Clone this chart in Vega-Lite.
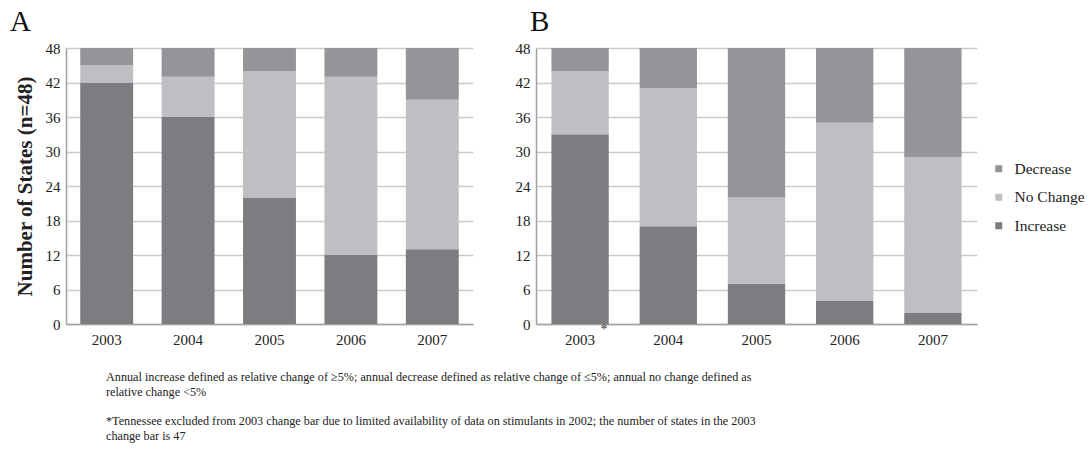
{
  "$schema": "https://vega.github.io/schema/vega-lite/v6.json",
  "background": "white",
  "padding": {"left": 10, "top": 8, "right": 0, "bottom": 0},
  "config": {
    "font": "Liberation Serif, Times New Roman, serif",
    "view": {"stroke": null},
    "axis": {
      "labelFont": "Liberation Serif, Times New Roman, serif",
      "labelFontSize": 15,
      "labelColor": "#222222",
      "gridColor": "#c9cacc",
      "gridWidth": 1.5,
      "domainColor": "#a0a0a0",
      "domainWidth": 1.5,
      "ticks": false
    },
    "concat": {"spacing": 42}
  },
  "datasets": {
    "panelA": [
      {"year": "2003", "change": "Increase", "direction": 1, "states": 42},
      {"year": "2003", "change": "No Change", "direction": 0, "states": 3},
      {"year": "2003", "change": "Decrease", "direction": -1, "states": 3},
      {"year": "2004", "change": "Increase", "direction": 1, "states": 36},
      {"year": "2004", "change": "No Change", "direction": 0, "states": 7},
      {"year": "2004", "change": "Decrease", "direction": -1, "states": 5},
      {"year": "2005", "change": "Increase", "direction": 1, "states": 22},
      {"year": "2005", "change": "No Change", "direction": 0, "states": 22},
      {"year": "2005", "change": "Decrease", "direction": -1, "states": 4},
      {"year": "2006", "change": "Increase", "direction": 1, "states": 12},
      {"year": "2006", "change": "No Change", "direction": 0, "states": 31},
      {"year": "2006", "change": "Decrease", "direction": -1, "states": 5},
      {"year": "2007", "change": "Increase", "direction": 1, "states": 13},
      {"year": "2007", "change": "No Change", "direction": 0, "states": 26},
      {"year": "2007", "change": "Decrease", "direction": -1, "states": 9}
    ],
    "panelB": [
      {"year": "2003", "change": "Increase", "direction": 1, "states": 33},
      {"year": "2003", "change": "No Change", "direction": 0, "states": 11},
      {"year": "2003", "change": "Decrease", "direction": -1, "states": 4},
      {"year": "2004", "change": "Increase", "direction": 1, "states": 17},
      {"year": "2004", "change": "No Change", "direction": 0, "states": 24},
      {"year": "2004", "change": "Decrease", "direction": -1, "states": 7},
      {"year": "2005", "change": "Increase", "direction": 1, "states": 7},
      {"year": "2005", "change": "No Change", "direction": 0, "states": 15},
      {"year": "2005", "change": "Decrease", "direction": -1, "states": 26},
      {"year": "2006", "change": "Increase", "direction": 1, "states": 4},
      {"year": "2006", "change": "No Change", "direction": 0, "states": 31},
      {"year": "2006", "change": "Decrease", "direction": -1, "states": 13},
      {"year": "2007", "change": "Increase", "direction": 1, "states": 2},
      {"year": "2007", "change": "No Change", "direction": 0, "states": 27},
      {"year": "2007", "change": "Decrease", "direction": -1, "states": 19}
    ],
    "notes": [
      {"year": "2003", "mark": "*"}
    ]
  },
  "title": {
    "text": [
      "Annual increase defined as relative change of ≥5%; annual decrease defined as relative change of ≤5%; annual no change defined as",
      "relative change <5%"
    ],
    "subtitle": [
      "*Tennessee excluded from 2003 change bar due to limited availability of data on stimulants in 2002; the number of states in the 2003",
      "change bar is 47"
    ],
    "orient": "bottom",
    "anchor": "start",
    "frame": "bounds",
    "font": "Liberation Serif, Times New Roman, serif",
    "fontSize": 12.2,
    "fontWeight": "normal",
    "color": "#222222",
    "lineHeight": 15,
    "subtitleFont": "Liberation Serif, Times New Roman, serif",
    "subtitleFontSize": 12.2,
    "subtitleFontWeight": "normal",
    "subtitleColor": "#222222",
    "subtitleLineHeight": 15,
    "subtitlePadding": 17,
    "offset": 24,
    "dx": 96
  },
  "resolve": {"scale": {"color": "independent"}},
  "hconcat": [
    {
      "width": 407,
      "height": 276,
      "title": {"text": "A", "anchor": "start", "frame": "group", "fontSize": 29, "fontWeight": "normal", "font": "Liberation Serif, Times New Roman, serif", "color": "#111111", "dx": -56, "offset": 4},
      "data": {"name": "panelA"},
      "mark": {"type": "bar"},
      "encoding": {
        "x": {
          "field": "year", "type": "nominal",
          "scale": {"paddingInner": 0.35, "paddingOuter": 0.175},
          "axis": {"title": null, "labelAngle": 0, "labelPadding": 8}
        },
        "y": {
          "field": "states", "type": "quantitative", "stack": "zero",
          "scale": {"domain": [0, 48], "nice": false},
          "axis": {"values": [0, 6, 12, 18, 24, 30, 36, 42, 48], "grid": true, "labelPadding": 6, "title": "Number of States (n=48)", "titleFont": "Liberation Serif, Times New Roman, serif", "titleFontSize": 21, "titleFontWeight": "bold", "titleColor": "#222222", "titlePadding": 10}
        },
        "order": {"field": "direction", "type": "quantitative", "sort": "descending"},
        "color": {
          "field": "change", "type": "nominal",
          "scale": {"domain": ["Decrease", "No Change", "Increase"], "range": ["#949599", "#bebfc3", "#7c7d81"]},
          "legend": null
        }
      }
    },
    {
      "width": 441,
      "height": 276,
      "title": {"text": "B", "anchor": "start", "frame": "group", "fontSize": 29, "fontWeight": "normal", "font": "Liberation Serif, Times New Roman, serif", "color": "#111111", "dx": -6, "offset": 4},
      "layer": [
        {
          "data": {"name": "panelB"},
          "mark": {"type": "bar"},
          "encoding": {
            "x": {
              "field": "year", "type": "nominal",
              "scale": {"paddingInner": 0.35, "paddingOuter": 0.175},
              "axis": {"title": null, "labelAngle": 0, "labelPadding": 8}
            },
            "y": {
              "field": "states", "type": "quantitative", "stack": "zero",
              "scale": {"domain": [0, 48], "nice": false},
              "axis": {"values": [0, 6, 12, 18, 24, 30, 36, 42, 48], "grid": true, "labelPadding": 6, "title": null}
            },
            "order": {"field": "direction", "type": "quantitative", "sort": "descending"},
            "color": {
              "field": "change", "type": "nominal",
              "scale": {"domain": ["Decrease", "No Change", "Increase"], "range": ["#949599", "#bebfc3", "#7c7d81"]},
              "legend": {"title": null, "orient": "none", "legendX": 455, "legendY": 113, "symbolType": "square", "symbolSize": 49, "symbolStrokeWidth": 0, "labelFont": "Liberation Serif, Times New Roman, serif", "labelFontSize": 15.5, "labelColor": "#222222", "rowPadding": 11.5, "labelOffset": 8}
            }
          }
        },
        {
          "data": {"name": "notes"},
          "mark": {"type": "text", "font": "Liberation Serif, Times New Roman, serif", "fontSize": 14, "color": "#333333", "baseline": "top", "align": "center", "dx": 24, "dy": -1},
          "encoding": {
            "x": {"field": "year", "type": "nominal"},
            "y": {
              "datum": 0, "type": "quantitative",
              "axis": {"values": [0, 6, 12, 18, 24, 30, 36, 42, 48], "grid": true, "labelPadding": 6, "title": null}
            },
            "text": {"field": "mark"}
          }
        }
      ]
    }
  ]
}
